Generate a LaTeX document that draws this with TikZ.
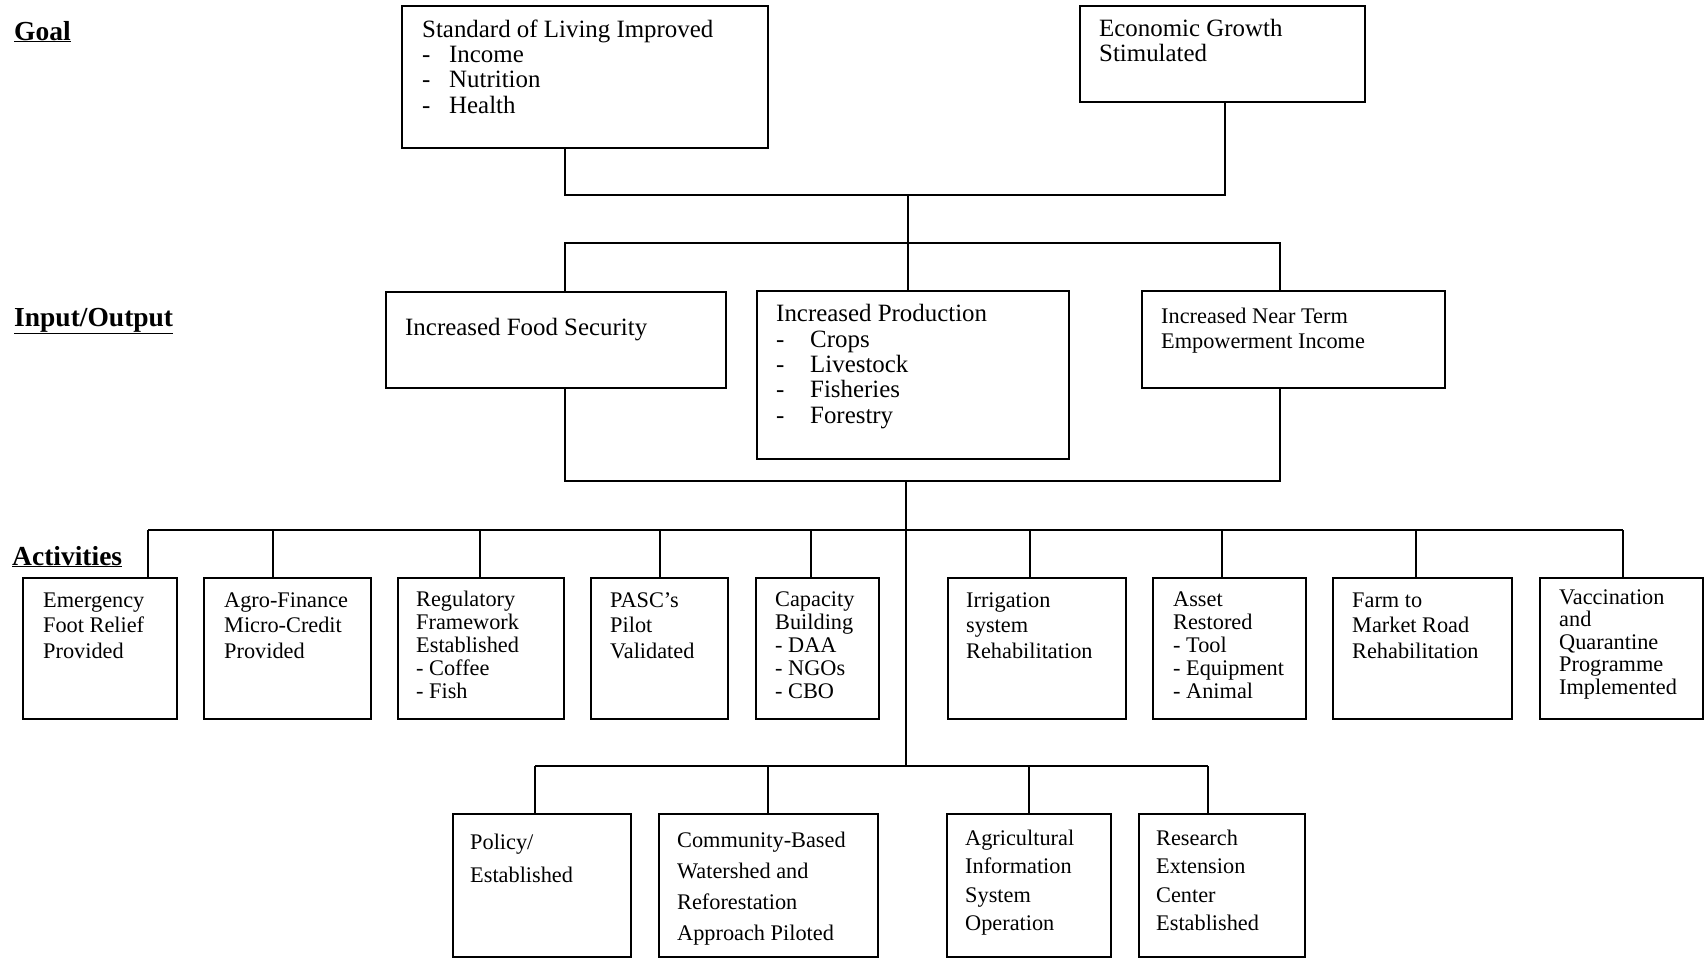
\documentclass[tikz,border=0pt]{standalone}
\usepackage{fontspec}
\setmainfont{Liberation Serif}
\usepackage{tikz}

\newcommand{\goalfont}[1]{\fontsize{24.9}{#1}\selectfont}
\newcommand{\actfont}[1]{\fontsize{22.3}{#1}\selectfont}
\newcommand{\headfont}{\fontsize{27.5}{30}\selectfont\bfseries}
\newcommand{\itm}[1]{\makebox[#1][l]{-}}

\begin{document}
\begin{tikzpicture}[x=1pt, y=-1pt,
  box/.style={draw, line width=2.2pt, anchor=north west, inner sep=0pt},
  txt/.style={anchor=base west, align=left, inner sep=0pt},
  head/.style={anchor=base west, inner sep=0pt, font=\headfont},
  wire/.style={line width=1.8pt}]
\useasboundingbox (0,0) rectangle (1704,959);
% Level labels
\node[head] (goalH) at (14,40) {\underline{Goal}};
\node[head] (ioH) at (14,326) {\underline{Input/Output}};
\node[head] (actH) at (12,565) {\underline{Activities}};
% Goal boxes (text nodes sit on the baseline of their last line)
\node[box, minimum width=366pt, minimum height=142pt] (stdLiving) at (401,5) {};
\node[box, minimum width=285pt, minimum height=96pt] (ecoGrowth) at (1079,5) {};
\node[txt, font={\goalfont{25.3}}] (stdLivingT) at (422,113)
  {Standard of Living Improved\\ \itm{27pt}Income\\ \itm{27pt}Nutrition\\ \itm{27pt}Health};
\node[txt, font={\goalfont{25}}] (ecoGrowthT) at (1099,61) {Economic Growth\\Stimulated};
% Input/Output boxes
\node[box, minimum width=340pt, minimum height=96pt] (foodSec) at (385,291) {};
\node[box, minimum width=312pt, minimum height=168pt] (production) at (756,290) {};
\node[box, minimum width=303pt, minimum height=97pt] (nearTerm) at (1141,290) {};
\node[txt, font={\goalfont{25}}] (foodSecT) at (405,335) {Increased Food Security};
\node[txt, font={\goalfont{25.3}}] (productionT) at (776,423)
  {Increased Production\\ \itm{34pt}Crops\\ \itm{34pt}Livestock\\ \itm{34pt}Fisheries\\ \itm{34pt}Forestry};
\node[txt, font={\actfont{25}}] (nearTermT) at (1161,348) {Increased Near Term\\Empowerment Income};
% Activities, first row
\node[box, minimum width=154pt, minimum height=141pt] (emergency) at (22,577) {};
\node[box, minimum width=167pt, minimum height=141pt] (agroFin) at (203,577) {};
\node[box, minimum width=166pt, minimum height=141pt] (regFrame) at (397,577) {};
\node[box, minimum width=137pt, minimum height=141pt] (pasc) at (590,577) {};
\node[box, minimum width=123pt, minimum height=141pt] (capacity) at (755,577) {};
\node[box, minimum width=178pt, minimum height=141pt] (irrigation) at (947,577) {};
\node[box, minimum width=153pt, minimum height=141pt] (asset) at (1152,577) {};
\node[box, minimum width=179pt, minimum height=141pt] (farmRoad) at (1332,577) {};
\node[box, minimum width=163pt, minimum height=141pt] (vaccine) at (1539,577) {};
\node[txt, font={\actfont{25.5}}] (emergencyT) at (43,658) {Emergency\\Foot Relief\\Provided};
\node[txt, font={\actfont{25.5}}] (agroFinT) at (224,658) {Agro-Finance\\Micro-Credit\\Provided};
\node[txt, font={\actfont{23}}] (regFrameT) at (416,698) {Regulatory\\Framework\\Established\\- Coffee\\- Fish};
\node[txt, font={\actfont{25.5}}] (pascT) at (610,658) {PASC’s\\Pilot\\Validated};
\node[txt, font={\actfont{23}}] (capacityT) at (775,698) {Capacity\\Building\\- DAA\\- NGOs\\- CBO};
\node[txt, font={\actfont{25.5}}] (irrigationT) at (966,658) {Irrigation\\system\\Rehabilitation};
\node[txt, font={\actfont{23}}] (assetT) at (1173,698) {Asset\\Restored\\- Tool\\- Equipment\\- Animal};
\node[txt, font={\actfont{25.5}}] (farmRoadT) at (1352,658) {Farm to\\Market Road\\Rehabilitation};
\node[txt, font={\actfont{22.5}}] (vaccineT) at (1559,694) {Vaccination\\and\\Quarantine\\Programme\\Implemented};
% Activities, second row
\node[box, minimum width=178pt, minimum height=143pt] (policy) at (452,813) {};
\node[box, minimum width=219pt, minimum height=143pt] (watershed) at (658,813) {};
\node[box, minimum width=164pt, minimum height=143pt] (agriInfo) at (946,813) {};
\node[box, minimum width=166pt, minimum height=143pt] (research) at (1138,813) {};
\node[txt, font={\actfont{33}}] (policyT) at (470,882) {Policy/\\Established};
\node[txt, font={\actfont{31}}] (watershedT) at (677,940) {Community-Based\\Watershed and\\Reforestation\\Approach Piloted};
\node[txt, font={\actfont{28.5}}] (agriInfoT) at (965,930.5) {Agricultural\\Information\\System\\Operation};
\node[txt, font={\actfont{28.5}}] (researchT) at (1156,930.5) {Research\\Extension\\Center\\Established};
% Junctions
\coordinate (goalJoin) at (908,195);
\coordinate (ioJoin) at (906,481);
\coordinate (lowJoin) at (906,766);
% Goal to Input/Output
\draw[wire] (565,0 |- stdLiving.south) |- (1225,195) -- (1225,0 |- ecoGrowth.south);
\draw[wire] (goalJoin) -- (goalJoin |- production.north);
\draw[wire] (565,0 |- foodSec.north) |- (1280,243) -- (1280,0 |- nearTerm.north);
% Input/Output to activities
\draw[wire] (565,0 |- foodSec.south) |- (1280,481) -- (1280,0 |- nearTerm.south);
\draw[wire] (ioJoin) -- (lowJoin);
\draw[wire] (148,530) -- (1623,530);
\foreach \x/\n in {148/emergency, 273/agroFin, 480/regFrame, 660/pasc, 811/capacity,
    1030/irrigation, 1222/asset, 1416/farmRoad, 1623/vaccine}
  \draw[wire] (\x,530) -- (\x,0 |- \n.north);
\draw[wire] (535,766) -- (1208,766);
\foreach \x/\n in {535/policy, 768/watershed, 1029/agriInfo, 1208/research}
  \draw[wire] (\x,766) -- (\x,0 |- \n.north);
\end{tikzpicture}
\end{document}
